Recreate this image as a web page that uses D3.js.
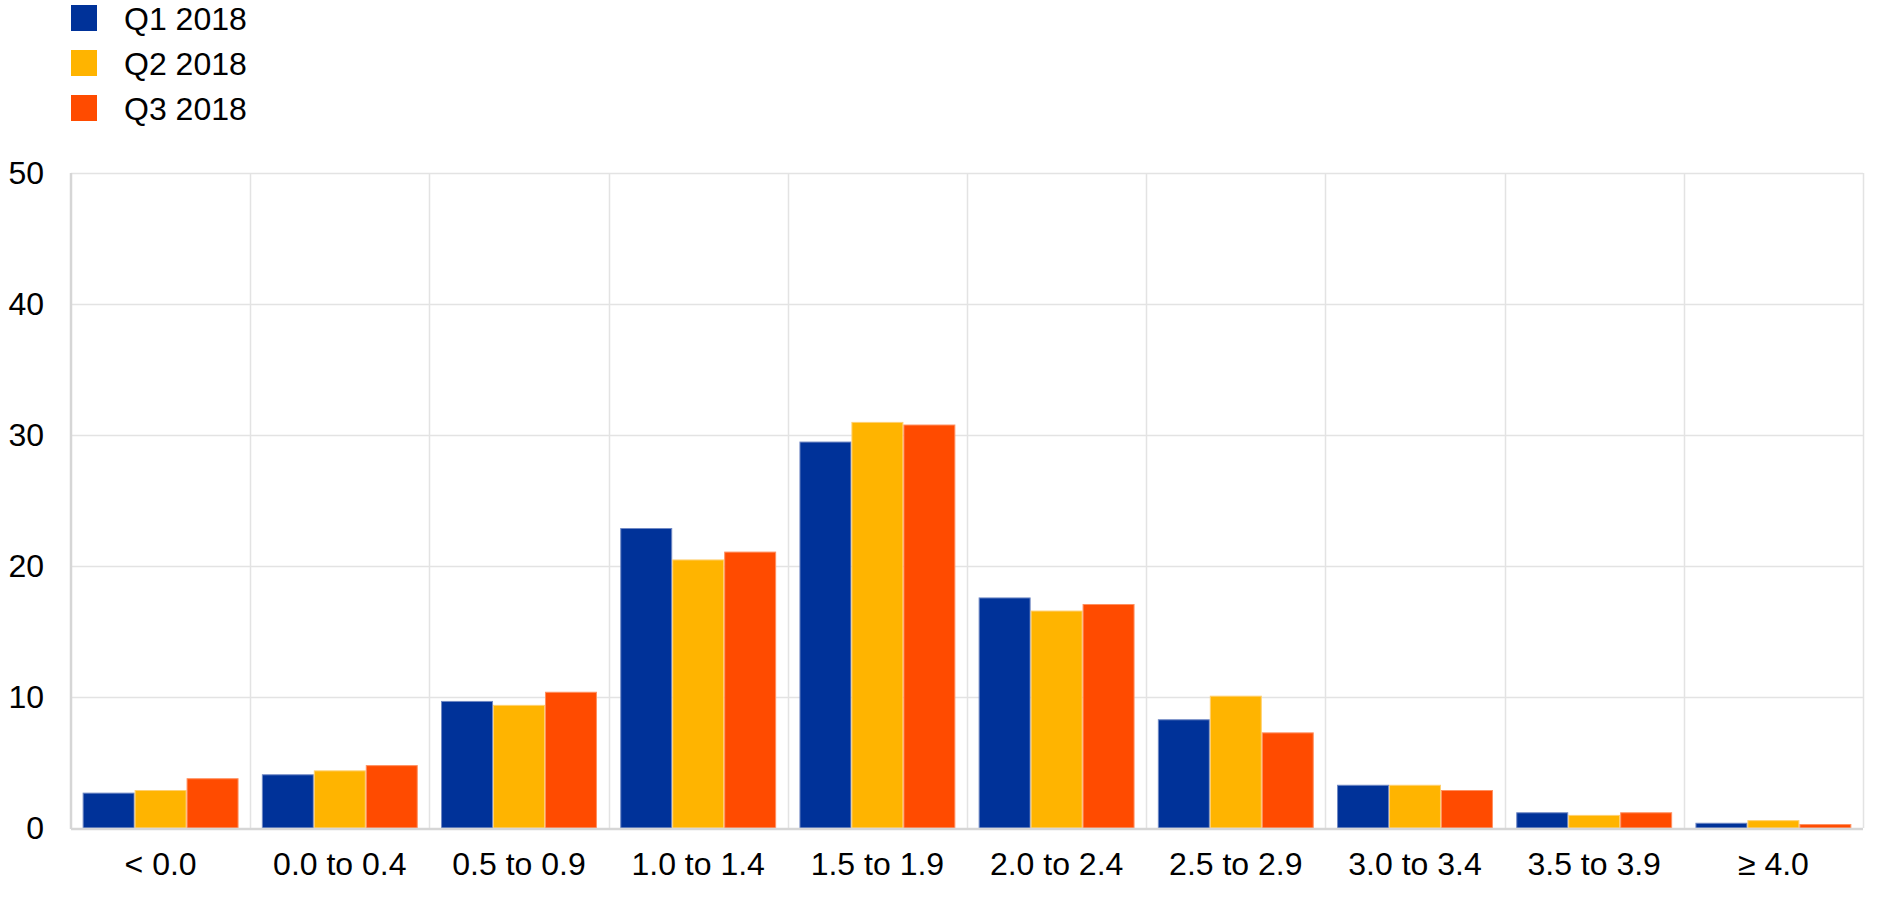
<!DOCTYPE html>
<html>
<head>
<meta charset="utf-8">
<script src="https://cdn.jsdelivr.net/npm/d3@7"></script>
<style>
  html, body { margin: 0; padding: 0; background: #fff; }
  svg { display: block; font-family: "Liberation Sans", Arial, sans-serif; }
</style>
</head>
<body>
<svg id="chart" width="1890" height="898"></svg>
<script>
const categories = ["< 0.0", "0.0 to 0.4", "0.5 to 0.9", "1.0 to 1.4", "1.5 to 1.9", "2.0 to 2.4", "2.5 to 2.9", "3.0 to 3.4", "3.5 to 3.9", "\u2265 4.0"];
const seriesNames = ["Q1 2018", "Q2 2018", "Q3 2018"];
const q1 = [2.7, 4.1, 9.7, 22.9, 29.5, 17.6, 8.3, 3.3, 1.2, 0.4];
const q2 = [2.9, 4.4, 9.4, 20.5, 31.0, 16.6, 10.1, 3.3, 1.0, 0.6];
const q3 = [3.8, 4.8, 10.4, 21.1, 30.8, 17.1, 7.3, 2.9, 1.2, 0.3];
const colors = ["#003299", "#FFB400", "#FF4B00"];
const strokes = ["#6f88c4", "#ffd070", "#ff9060"];
const yTicks = [0, 10, 20, 30, 40, 50];

const seriesValues = [q1, q2, q3];
const svg = d3.select("#chart");
const margin = {left: 71, right: 27, top: 173, bottom: 70};
const W = 1890, H = 898;
const x0 = margin.left, x1 = W - margin.right;
const yTop = margin.top, yBot = H - margin.bottom;

const x = d3.scaleBand().domain(categories).range([x0, x1]).paddingInner(0.13).paddingOuter(0.065);
const xs = d3.scaleBand().domain(seriesNames).range([0, x.bandwidth()]);
const y = d3.scaleLinear().domain([0, 50]).range([yBot, yTop]);
const step = (x1 - x0) / categories.length;

// gridlines
const grid = svg.append("g");
grid.selectAll("line.h").data(yTicks.filter(d => d > 0)).enter().append("line")
  .attr("x1", x0).attr("x2", x1).attr("y1", d => Math.round(y(d)) + 0.5).attr("y2", d => Math.round(y(d)) + 0.5)
  .attr("stroke", "#e3e3e3").attr("stroke-width", 1.5);
grid.selectAll("line.v").data(d3.range(1, categories.length + 1)).enter().append("line")
  .attr("x1", i => Math.round(x0 + i * step) + 0.5).attr("x2", i => Math.round(x0 + i * step) + 0.5)
  .attr("y1", yTop).attr("y2", yBot)
  .attr("stroke", "#e3e3e3").attr("stroke-width", 1.5);

// bars
const groups = svg.append("g").selectAll("g").data(categories).enter().append("g")
  .attr("transform", c => `translate(${x(c)},0)`);
seriesNames.forEach((s, si) => {
  groups.append("rect")
    .attr("x", xs(s) + 0.5)
    .attr("width", xs.bandwidth() - 1)
    .attr("y", (c, i) => y(seriesValues[si][i]) + 0.5)
    .attr("height", (c, i) => Math.max(0, yBot - y(seriesValues[si][i]) - 0.5))
    .attr("fill", colors[si])
    .attr("stroke", strokes[si])
    .attr("stroke-width", 1);
});

// axes lines (left and bottom)
svg.append("line").attr("x1", x0).attr("x2", x0).attr("y1", yTop).attr("y2", yBot + 1)
  .attr("stroke", "#d6d6d6").attr("stroke-width", 2.5);
svg.append("line").attr("x1", x0).attr("x2", x1).attr("y1", yBot + 1).attr("y2", yBot + 1)
  .attr("stroke", "#d6d6d6").attr("stroke-width", 2.5);

// y axis labels
const yAxis = d3.axisLeft(y).tickValues(yTicks).tickSize(0).tickPadding(0);
const yg = svg.append("g").attr("transform", `translate(${44},0)`).call(yAxis);
yg.select(".domain").remove();
yg.selectAll("text").attr("font-size", 32).attr("fill", "#000").attr("font-family", "Liberation Sans, Arial, sans-serif");

// x axis labels
const xAxis = d3.axisBottom(x).tickSize(0).tickPadding(0);
const xg = svg.append("g").attr("transform", `translate(0,${yBot + 24})`).call(xAxis);
xg.select(".domain").remove();
xg.selectAll("text").attr("font-size", 32).attr("fill", "#000").attr("dy", "0.71em").attr("font-family", "Liberation Sans, Arial, sans-serif");

// legend
const leg = svg.append("g");
seriesNames.forEach((s, i) => {
  const cy = 18 + i * 45;
  leg.append("rect").attr("x", 71).attr("y", cy - 13).attr("width", 26).attr("height", 26).attr("fill", colors[i]);
  leg.append("text").attr("x", 124).attr("y", cy).attr("dy", "0.36em").attr("font-size", 32).attr("fill", "#000").text(s);
});
</script>
</body>
</html>
